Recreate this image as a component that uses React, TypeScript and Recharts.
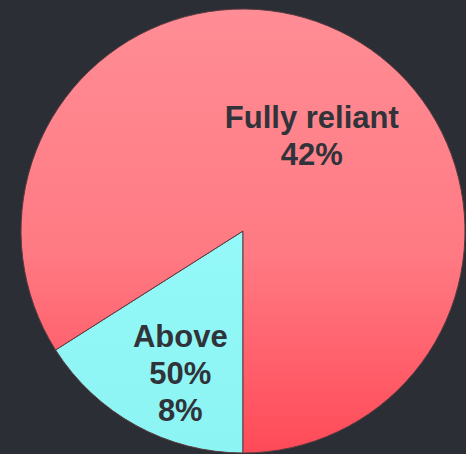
import React from "react";
import { PieChart, Pie, Cell } from "recharts";

const categories = ["Above 50%", "Fully reliant"];
const values = [8, 42];
const labelLines = [["Above", "50%"], ["Fully reliant"]];

const COLORS = ["url(#cyanFill)", "url(#redFill)"];
// label placement per slice: fraction of radius, angle shift (deg)
const LABEL_POS = [
  { r: 0.7, shift: 5 },
  { r: 0.53, shift: -7 },
];

const data = categories.map((name, i) => ({ name, value: values[i] }));

const RAD = Math.PI / 180;

function renderLabel(props: any) {
  const { cx, cy, midAngle, outerRadius, index, value } = props;
  const pos = LABEL_POS[index];
  const a = (midAngle + pos.shift) * RAD;
  const x = cx + outerRadius * pos.r * Math.cos(a);
  const y = cy - outerRadius * pos.r * Math.sin(a);
  const lines = [...labelLines[index], `${value}%`];
  const lh = 37;
  const top = y - ((lines.length - 1) * lh) / 2;
  return (
    <text
      x={x}
      y={top}
      textAnchor="middle"
      dominantBaseline="central"
      fill="#303339"
      fontSize={31}
      fontWeight="bold"
      fontFamily="'Liberation Sans', Arial, sans-serif"
    >
      {lines.map((t, i) => (
        <tspan key={i} x={x} y={top + i * lh}>
          {t}
        </tspan>
      ))}
    </text>
  );
}

export default function App() {
  return (
    <div
      style={{
        position: "fixed",
        left: 0,
        top: 0,
        width: 466,
        height: 454,
        background: "#2b2e35",
        overflow: "hidden",
      }}
    >
      <PieChart width={466} height={454} margin={{ top: 0, right: 0, bottom: 0, left: 0 }}>
        <defs>
          <linearGradient id="redFill" x1="0" y1="0" x2="0" y2="1">
            <stop offset="0%" stopColor="#ff8d95" />
            <stop offset="55%" stopColor="#ff7a83" />
            <stop offset="100%" stopColor="#ff4a58" />
          </linearGradient>
          <linearGradient id="cyanFill" x1="0" y1="0" x2="0" y2="1">
            <stop offset="0%" stopColor="#94f9f8" />
            <stop offset="100%" stopColor="#8cf4f3" />
          </linearGradient>
        </defs>
        <Pie
          data={data}
          dataKey="value"
          nameKey="name"
          cx={243}
          cy={231}
          outerRadius={222}
          startAngle={-90}
          endAngle={-450}
          stroke="#5b3a40"
          strokeWidth={1}
          label={renderLabel}
          labelLine={false}
          isAnimationActive={false}
        >
          {data.map((_, i) => (
            <Cell key={i} fill={COLORS[i]} />
          ))}
        </Pie>
      </PieChart>
    </div>
  );
}
